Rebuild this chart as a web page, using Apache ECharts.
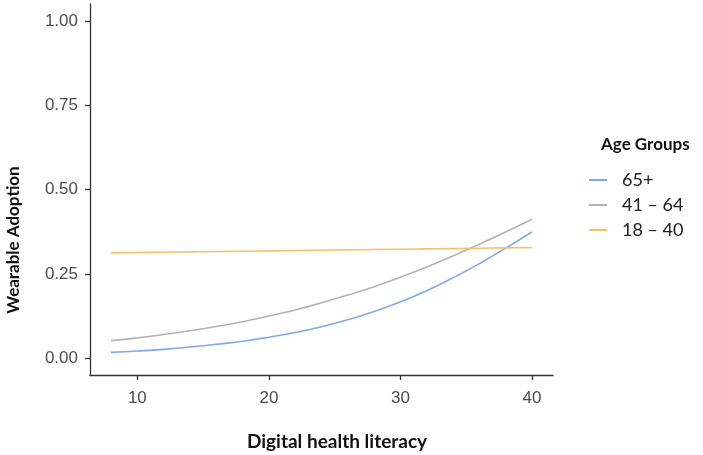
<!DOCTYPE html>
<html><head><meta charset="utf-8">
<script src="https://cdn.jsdelivr.net/npm/echarts@6/dist/echarts.min.js"></script>
<style>html,body{margin:0;padding:0;background:#fff}#c{width:703px;height:455px}</style>
</head><body><div id="c"></div>
<script>
const literacy = [8,10,12,14,16,18,20,22,24,26,28,30,32,34,36,38,40];
const age65plus = [0.017,0.021,0.026,0.033,0.041,0.050,0.062,0.076,0.093,0.114,0.138,0.167,0.200,0.238,0.280,0.326,0.374];
const age41to64 = [0.052,0.060,0.070,0.081,0.094,0.108,0.125,0.143,0.164,0.187,0.212,0.240,0.270,0.303,0.338,0.374,0.412];
const age18to40 = [0.312,0.313,0.314,0.315,0.316,0.317,0.318,0.319,0.320,0.321,0.322,0.323,0.324,0.325,0.326,0.327,0.328];
const seriesNames = ['65+','41 – 64','18 – 40'];
const yTicks = [0,0.25,0.5,0.75,1];
const xTicks = [10,20,30,40];

const colors = ['#80a8ec','#b3b3b3','#f4c26a'];
const all = [age65plus, age41to64, age18to40];
const chart = echarts.init(document.getElementById('c'), null, {renderer:'canvas'});
chart.setOption({
  animation:false,
  grid:{left:90,right:150,top:4,bottom:80,containLabel:false,outerBoundsMode:'none'},
  xAxis:{type:'value',min:6.4,max:41.6,interval:10,
    name:'Digital health literacy',nameLocation:'middle',nameGap:57,
    nameTextStyle:{fontFamily:'Lato',fontWeight:'bold',fontSize:19,color:'#111',padding:[0,0,0,31]},
    axisLine:{onZero:false,lineStyle:{color:'#333',width:1.3}},
    axisTick:{length:5,lineStyle:{color:'#333',width:1.3},customValues:xTicks},
    axisLabel:{margin:15,fontFamily:'Liberation Sans',fontSize:17,color:'#4d4d4d',customValues:xTicks},
    splitLine:{show:false}},
  yAxis:{type:'value',min:-0.05,max:1.05,
    axisLine:{show:true,onZero:false,lineStyle:{color:'#333',width:1.3}},
    axisTick:{show:true,length:5,lineStyle:{color:'#333',width:1.3},customValues:yTicks},
    axisLabel:{margin:12,fontFamily:'Liberation Sans',fontSize:17,color:'#4d4d4d',customValues:yTicks,
      formatter:v=>v.toFixed(2)},
    splitLine:{show:false}},
  legend:{orient:'vertical',left:589,top:171,padding:0,itemWidth:18,itemHeight:2,itemGap:7,icon:'rect',
    data:seriesNames,
    textStyle:{fontFamily:'Lato',fontSize:18,color:'#222',padding:[0,0,0,10]}},
  graphic:[
    {type:'text',left:601,top:136,style:{text:'Age Groups',fontFamily:'Lato',fontWeight:'bold',fontSize:17,fill:'#111'}},
    {type:'text',x:14,y:240,rotation:Math.PI/2,style:{text:'Wearable Adoption',fontFamily:'Lato',fontWeight:'bold',fontSize:17,fill:'#111',align:'center',verticalAlign:'middle'}}
  ],
  series: all.map((d,i)=>({
    name:seriesNames[i],type:'line',smooth:true,showSymbol:false,
    data:literacy.map((x,j)=>[x,d[j]]),
    lineStyle:{color:colors[i],width:1.6},itemStyle:{color:colors[i]}
  }))
});
</script></body></html>
